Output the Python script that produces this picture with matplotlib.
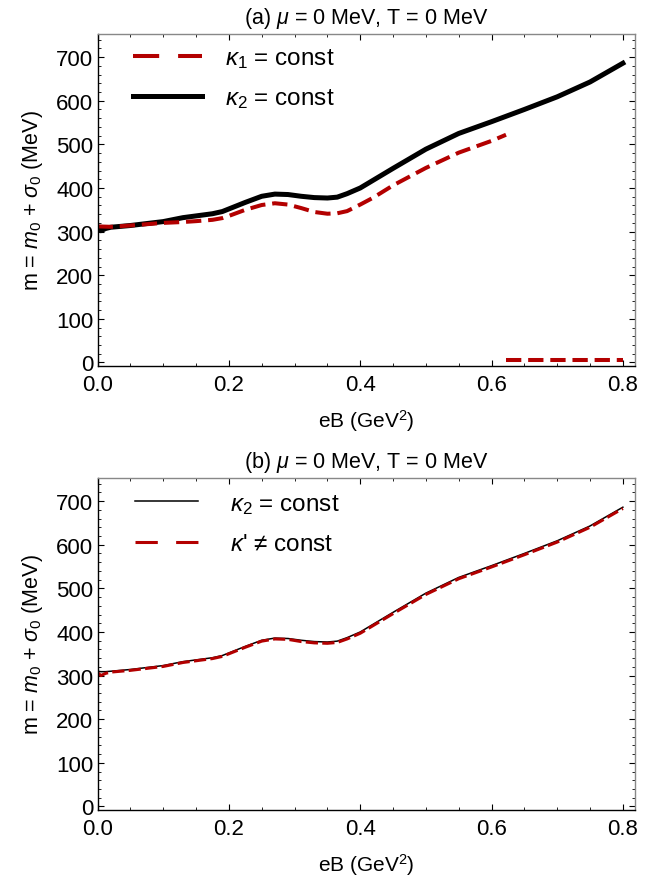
import matplotlib
matplotlib.use('Agg')
import matplotlib.pyplot as plt
from matplotlib.lines import Line2D
from matplotlib.ticker import MultipleLocator, FormatStrFormatter

plt.rcParams['font.family'] = ['Liberation Sans', 'DejaVu Sans']
plt.rcParams['mathtext.fontset'] = 'custom'
plt.rcParams['mathtext.rm'] = 'Liberation Sans'
plt.rcParams['mathtext.it'] = 'Liberation Sans:italic'
plt.rcParams['mathtext.bf'] = 'Liberation Sans:bold'

RED = '#b30000'

# panel (a): kappa_2 = const (black) and kappa_1 = const (red, two branches)
eb_k2 = [0.0, 0.005, 0.012, 0.02, 0.05, 0.1, 0.13, 0.15, 0.175, 0.19, 0.2, 0.225,
         0.25, 0.27, 0.29, 0.31, 0.33, 0.35, 0.365, 0.38, 0.4, 0.42, 0.45, 0.5,
         0.55, 0.6, 0.65, 0.7, 0.75, 0.8]
m_k2_a = [309, 302, 307, 310, 314, 323, 332, 336, 341, 346, 352, 367,
          381, 386, 385, 381, 378, 377, 379, 387, 400, 418, 445, 489,
          525, 552, 580, 609, 643, 686]

eb_k1 = [0.0, 0.02, 0.05, 0.1, 0.13, 0.15, 0.175, 0.19, 0.2, 0.225, 0.25, 0.27,
         0.29, 0.31, 0.33, 0.35, 0.365, 0.38, 0.4, 0.42, 0.45, 0.5, 0.55, 0.6, 0.622]
m_k1 = [312, 311, 314, 320, 322, 324, 327, 331, 336, 350, 361, 365,
        362, 354, 345, 341, 342, 347, 362, 378, 406, 446, 481, 508, 522]
eb_k1_low = [0.622, 0.8]
m_k1_low = [5, 5]

# panel (b): kappa_2 = const (black) and kappa' != const (red)
m_k2_b = [310, 309, 309, 310, 314, 323, 332, 336, 341, 346, 352, 367,
          381, 386, 385, 381, 378, 377, 379, 387, 400, 418, 445, 489,
          525, 552, 580, 609, 643, 686]
m_kp = [307, 300, 305, 308, 312, 321, 330, 334, 339, 344, 350, 365,
        379, 384, 383, 378, 375, 374, 376, 384, 397, 415, 442, 486,
        522, 549, 577, 606, 640, 683]

title_a = r'(a) $\mu$ = 0 MeV, T = 0 MeV'
title_b = r'(b) $\mu$ = 0 MeV, T = 0 MeV'
xlab = r'eB (GeV$^2$)'
ylab = r'm = $m_0$ + $\sigma_0$ (MeV)'


def style_axes(ax, title):
    ax.set_xlim(0, 0.818)
    ax.set_ylim(-8, 753)
    ax.xaxis.set_major_locator(MultipleLocator(0.2))
    ax.xaxis.set_minor_locator(MultipleLocator(0.05))
    ax.yaxis.set_major_locator(MultipleLocator(100))
    ax.yaxis.set_minor_locator(MultipleLocator(20))
    ax.tick_params(which='both', direction='in', top=True, right=True,
                   labelsize=16, pad=3)
    ax.tick_params(axis='x', pad=5.5)
    ax.tick_params(which='major', length=4, width=0.8)
    ax.tick_params(which='minor', length=2.2, width=0.6)
    ax.xaxis.set_major_formatter(FormatStrFormatter('%.1f'))
    for s in ['top', 'right']:
        ax.spines[s].set_color('#888888')
    for s in ['left', 'bottom']:
        ax.spines[s].set_color('black')
    for sp in ax.spines.values():
        sp.set_linewidth(1.0)
    ax.set_title(title, fontsize=15.5, pad=8)
    ax.set_xlabel(xlab, fontsize=15, labelpad=9)
    ax.set_ylabel(ylab, fontsize=15.5, labelpad=8)


fig = plt.figure(figsize=(6.55, 8.79), dpi=100)
ax1 = fig.add_axes([0.149, 0.5825, 0.820, 0.3777])
ax2 = fig.add_axes([0.149, 0.0774, 0.820, 0.3777])

# (a)
ax1.plot(eb_k2, m_k2_a, color='black', lw=3.6, solid_joinstyle='round')
ax1.plot(eb_k1, m_k1, color=RED, lw=2.9, dashes=(3.8, 1.7))
ax1.plot(eb_k1_low, m_k1_low, color=RED, lw=2.9, dashes=(3.8, 1.7))
style_axes(ax1, title_a)
h1 = [Line2D([], [], color=RED, lw=2.9, dashes=(6.5, 4.7)),
      Line2D([], [], color='black', lw=3.6)]
ax1.legend(h1, [r'$\kappa_1$ = const', r'$\kappa_2$ = const'],
           loc='upper left', bbox_to_anchor=(0.065, 0.963), frameon=False,
           fontsize=17.5, handlelength=2.85, handletextpad=0.95,
           labelspacing=0.67, borderpad=0, borderaxespad=0)

# (b)
ax2.plot(eb_k2, m_k2_b, color='black', lw=1.1, solid_joinstyle='round')
ax2.plot(eb_k2, m_kp, color=RED, lw=2.2, dashes=(4.0, 1.4))
style_axes(ax2, title_b)
h2 = [Line2D([], [], color='black', lw=1.1),
      Line2D([], [], color=RED, lw=2.2, dashes=(7.3, 6.0))]
ax2.legend(h2, [r'$\kappa_2$ = const', r"$\kappa$' ≠ const"],
           loc='upper left', bbox_to_anchor=(0.07, 0.958), frameon=False,
           fontsize=17.5, handlelength=2.6, handletextpad=1.3,
           labelspacing=0.72, borderpad=0, borderaxespad=0)

fig.savefig('out.png', dpi=100)
